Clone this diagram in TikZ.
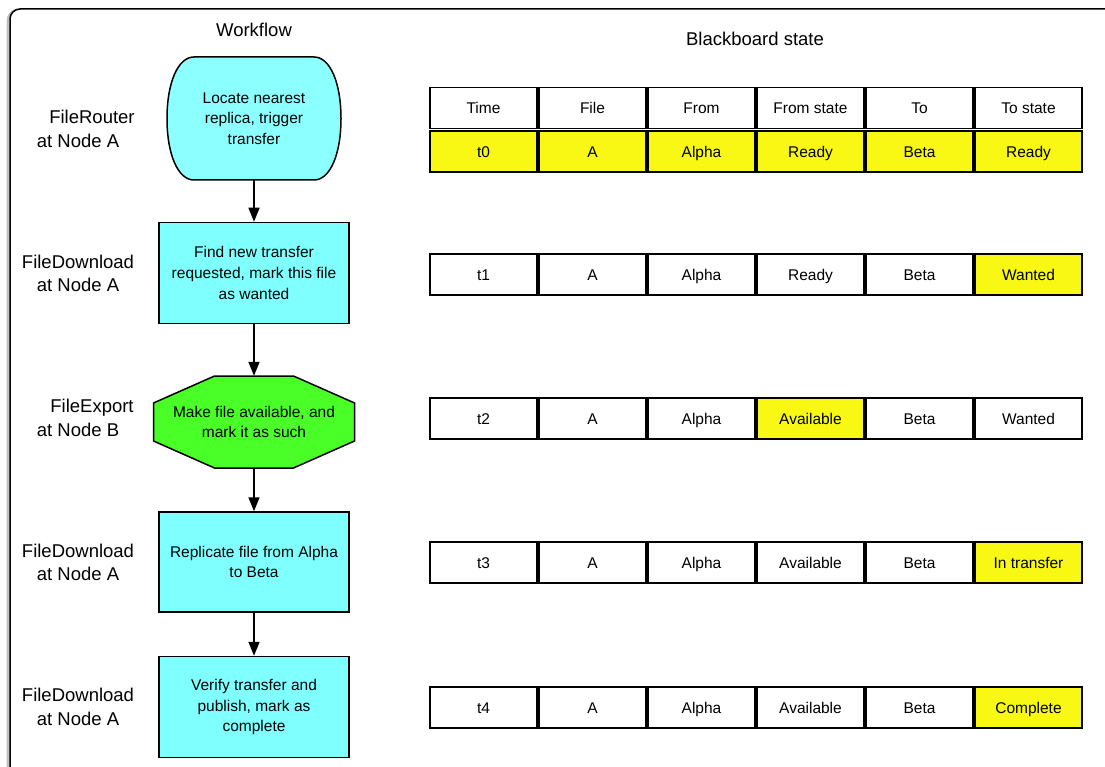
\documentclass[tikz,border=0pt]{standalone}
\usepackage{fontspec}
\setmainfont{Liberation Sans}
\usetikzlibrary{arrows.meta}
\definecolor{cyanA}{HTML}{80FFFF}
\definecolor{cyanB}{HTML}{8CFFFF}
\definecolor{greenA}{HTML}{4AFF28}
\definecolor{yellowA}{HTML}{F8F814}
\tikzset{
  flowtext/.style={align=center, inner sep=0pt, font=\fontsize{15.5}{20.7}\selectfont},
  flowbox/.style={flowtext, draw, line width=1.5pt, fill=cyanA, minimum width=190pt, minimum height=101pt},
  shapeline/.style={draw, line width=1.5pt},
  lbl/.style={align=center, font=\fontsize{18.5}{23.5}\selectfont},
  ttl/.style={font=\fontsize{18.5}{22}\selectfont},
  cell/.style={draw, line width=1.7pt, minimum width=107pt, minimum height=41pt, inner sep=0pt, text height=12.8pt, text depth=1.2pt, font=\fontsize{15.5}{18}\selectfont},
  arr/.style={line width=1.5pt, -{Triangle[length=14pt,width=11pt]}}
}
\begin{document}
\begin{tikzpicture}[x=1pt,y=-1pt]
\useasboundingbox (0,0) rectangle (1105,767);
% frame
\draw[black!25, line width=3pt, rounded corners=11pt] (8,10) rectangle (1125,790);
\draw[line width=1.5pt, rounded corners=10pt, fill=white] (10,9) rectangle (1125,790);
% titles
\node[ttl] (tw) at (254,30) {Workflow};
\node[ttl] (tb) at (755,39) {Blackboard state};
% node 1 (curved sides)
\coordinate (c1) at (254,118.5);
\path[shapeline, fill=cyanB]
  ([shift={(-60,-61.5)}]c1) -- ([shift={(60,-61.5)}]c1)
  .. controls ([shift={(76,-61.5)}]c1) and ([shift={(87,-36)}]c1) .. ([shift={(87,0)}]c1)
  .. controls ([shift={(87,36)}]c1) and ([shift={(76,61.5)}]c1) .. ([shift={(60,61.5)}]c1)
  -- ([shift={(-60,61.5)}]c1)
  .. controls ([shift={(-76,61.5)}]c1) and ([shift={(-87,36)}]c1) .. ([shift={(-87,0)}]c1)
  .. controls ([shift={(-87,-36)}]c1) and ([shift={(-76,-61.5)}]c1) .. cycle;
\node[flowtext, minimum width=173pt, minimum height=123pt] (n1) at (c1) {Locate nearest\\replica, trigger\\transfer};
% node 2
\node[flowbox] (n2) at (254,273) {Find new transfer\\requested, mark this file\\as wanted};
% node 3 octagon
\coordinate (c3) at (254,422);
\path[shapeline, fill=greenA]
  ([shift={(-39.5,-46)}]c3) -- ([shift={(39.5,-46)}]c3) -- ([shift={(100.5,-19)}]c3) -- ([shift={(100.5,19)}]c3)
  -- ([shift={(39.5,46)}]c3) -- ([shift={(-39.5,46)}]c3) -- ([shift={(-100.5,19)}]c3) -- ([shift={(-100.5,-19)}]c3) -- cycle;
\node[flowtext, minimum width=201pt, minimum height=92pt] (n3) at (c3) {Make file available, and\\mark it as such};
% node 4, 5
\node[flowbox, minimum height=100pt] (n4) at (254,562) {Replicate file from Alpha\\to Beta};
\node[flowbox] (n5) at (254,707) {Verify transfer and\\publish, mark as\\complete};
% arrows
\draw[arr] (n1.south) -- (n2.north);
\draw[arr] (n2.south) -- (n3.north);
\draw[arr] (n3.south) -- (n4.north);
\draw[arr] (n4.south) -- (n5.north);
% left labels
\node[lbl] (l1) at (78,129) {\hspace*{28pt}FileRouter\\at Node A};
\node[lbl] (l2) at (78,273.5) {FileDownload\\at Node A};
\node[lbl] (l3) at (78,418) {\hspace*{28pt}FileExport\\at Node B};
\node[lbl] (l4) at (78,562.5) {FileDownload\\at Node A};
\node[lbl] (l5) at (78,707) {FileDownload\\at Node A};
% table
\foreach \rn/\yy/\cells in {
  h/108/{Time/white,File/white,From/white,From state/white,To/white,To state/white},
  r0/151.5/{t0/yellowA,A/yellowA,Alpha/yellowA,Ready/yellowA,Beta/yellowA,Ready/yellowA},
  r1/274.5/{t1/white,A/white,Alpha/white,Ready/white,Beta/white,Wanted/yellowA},
  r2/418.5/{t2/white,A/white,Alpha/white,Available/yellowA,Beta/white,Wanted/white},
  r3/562.5/{t3/white,A/white,Alpha/white,Available/white,Beta/white,In transfer/yellowA},
  r4/707.5/{t4/white,A/white,Alpha/white,Available/white,Beta/white,Complete/yellowA}}{
  \foreach \t/\f [count=\i] in \cells {
    \node[cell, fill=\f] (\rn-\i) at (374.5+109*\i,\yy) {\t};
  }
}
\end{tikzpicture}
\end{document}
